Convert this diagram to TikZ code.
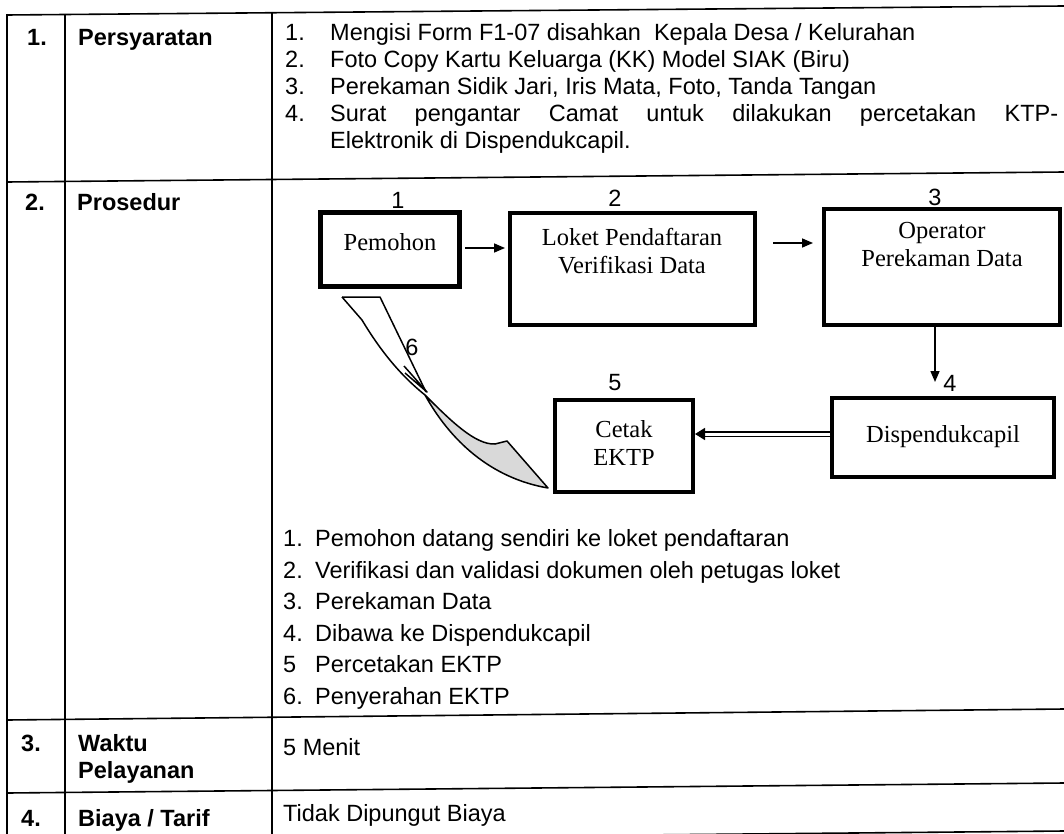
\documentclass[tikz,border=0pt]{standalone}
\usepackage{fontspec}
\setmainfont{Liberation Serif}
\setsansfont{Liberation Sans}
\usetikzlibrary{arrows.meta, positioning}

\begin{document}
\begin{tikzpicture}[
   x = 1pt, y = -1pt,
   rule/.style = {line width=1.6pt},
   head/.style = {anchor=base west, inner sep=0pt, font=\sffamily\bfseries\fontsize{23.5}{27}\selectfont},
   cell/.style = {anchor=base west, inner sep=0pt, font=\sffamily\fontsize{23.5}{27}\selectfont},
   num/.style = {inner sep=0pt, font=\sffamily\fontsize{23.5}{27}\selectfont},
   box/.style = {draw, line width=4pt, inner sep=0pt},
   boxtext/.style = {align=center, inner sep=0pt, font=\fontsize{24.5}{28}\selectfont},
   flow/.style = {line width=1.6pt, -{Triangle[length=11pt, width=9pt]}}]

   \useasboundingbox (0,0) rectangle (1064,834);
   \clip (0,0) rectangle (1064,834);

   % table rules, the sheet is a bit skewed
   \draw[rule] (7,15) -- (1064,6);
   \draw[rule] (7,182) -- (1064,172);
   \draw[rule] (7,720) -- (1064,709);
   \draw[rule] (7,793) -- (1064,783);
   \draw[rule] (7,841) -- (1064,831);
   \draw[rule] (7,14) -- (7,834);
   \draw[rule] (65,14) -- (65,834);
   \draw[rule] (272,12) -- (272,834);

   % left columns
   \node[head] (no1) at (27,46) {1.};
   \node[head] (persyaratan) at (78,46) {Persyaratan};
   \node[head] (no2) at (25,211) {2.};
   \node[head] (prosedur) at (77,211) {Prosedur};
   \node[head] (no3) at (21,751) {3.};
   \node[head] (waktu) at (78,751) {Waktu};
   \node[head] (pelayanan) at (78,778) {Pelayanan};
   \node[head] (no4) at (21,826) {4.};
   \node[head] (biaya) at (78,826) {Biaya / Tarif};

   % persyaratan
   \node[cell] (req1) at (285,41) {\makebox[45pt][l]{1.}Mengisi Form F1-07 disahkan\ \ Kepala Desa / Kelurahan};
   \node[cell] (req2) at (285,68) {\makebox[45pt][l]{2.}Foto Copy Kartu Keluarga (KK) Model SIAK (Biru)};
   \node[cell] (req3) at (285,95) {\makebox[45pt][l]{3.}Perekaman Sidik Jari, Iris Mata, Foto, Tanda Tangan};
   \node[cell] (req4) at (285,122) {\makebox[45pt][l]{4.}\makebox[728pt][s]{Surat pengantar Camat untuk dilakukan percetakan KTP-}};
   \node[cell] (req5) at (330,149) {Elektronik di Dispendukcapil.};

   % prosedur boxes
   \node[box, line width=5pt, minimum width=139pt, minimum height=74pt] (pemohon) at (390,249.5) {};
   \node[box, minimum width=245pt, minimum height=112pt] (loket) at (632.5,269) {};
   \node[box, minimum width=236pt, minimum height=116pt] (operator) at (942,267) {};
   \node[box, minimum width=222pt, minimum height=79pt] (dispen) at (943,437.5) {};
   \node[box, minimum width=138pt, minimum height=92pt] (cetak) at (624,446) {};

   \node[boxtext] (pemohon-t) at (390,242) {Pemohon};
   \node[boxtext] (loket-t) at (632,251.5) {Loket Pendaftaran\\Verifikasi Data};
   \node[boxtext] (operator-t) at (942,245) {Operator\\Perekaman Data};
   \node[boxtext] (dispen-t) at (943,437) {Dispendukcapil};
   \node[boxtext] (cetak-t) at (624,443) {Cetak\\EKTP};

   \node[num] (s1) at (398,200) {1};
   \node[num] (s2) at (615,198) {2};
   \node[num] (s3) at (935,197) {3};
   \node[num] (s4) at (950,383) {4};
   \node[num] (s5) at (615,383) {5};
   \node[num] (s6) at (412,347) {6};

   \draw[flow, shorten <=3pt, shorten >=3pt] (pemohon.east |- 0,248) -- (loket.west |- 0,248);
   \draw[flow, shorten <=16pt, shorten >=9pt] (loket.east |- 0,243) -- (operator.west |- 0,243);
   \draw[flow, shorten >=14pt] (operator.south -| 935,0) -- (dispen.north -| 935,0);
   \draw[line width=1.5pt, double distance=3pt, -{Triangle[length=10pt, width=12pt]}]
      (dispen.west |- 0,434) -- (cetak.east |- 0,434);

   % curved arrow back to pemohon (6)
   \draw[line width=1.5pt, line join=round] (342,297) -- (380,297) -- (426,392);
   \filldraw[line width=1.5pt, fill=gray!30, line join=round]
      (425,395) .. controls (450,420) and (475,445) .. (495,444) -- (507,441) -- (548,488)
      .. controls (490,478) and (450,440) .. (425,395) -- cycle;
   \draw[line width=1.5pt, line join=round] (342,297) -- (362,320)
      .. controls (380,350) and (400,375) .. (425,395);
   \draw[line width=1.5pt, line join=round] (404,366) -- (427,392) -- (405,373);

   % steps
   \node[cell] (step1) at (283,546) {\makebox[32pt][l]{1.}Pemohon datang sendiri ke loket pendaftaran};
   \node[cell] (step2) at (283,578) {\makebox[32pt][l]{2.}Verifikasi dan validasi dokumen oleh petugas loket};
   \node[cell] (step3) at (283,609) {\makebox[32pt][l]{3.}Perekaman Data};
   \node[cell] (step4) at (283,641) {\makebox[32pt][l]{4.}Dibawa ke Dispendukcapil};
   \node[cell] (step5) at (283,672) {\makebox[32pt][l]{5}Percetakan EKTP};
   \node[cell] (step6) at (283,704) {\makebox[32pt][l]{6.}Penyerahan EKTP};

   \node[cell] (menit) at (283,755) {5 Menit};
   \node[cell] (tarif) at (283,821) {Tidak Dipungut Biaya};
\end{tikzpicture}
\end{document}
